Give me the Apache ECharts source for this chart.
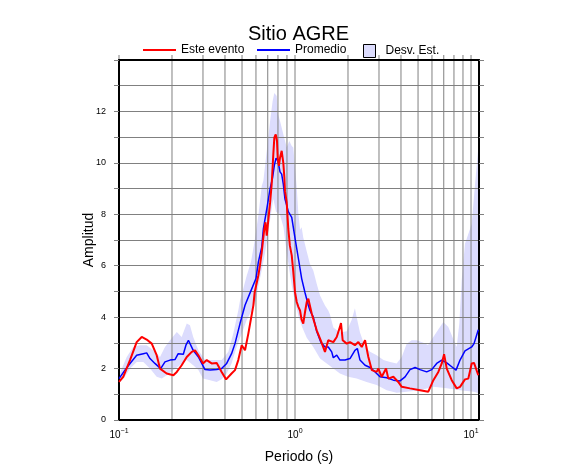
<!DOCTYPE html>
<html>
<head>
<meta charset="utf-8">
<script src="https://cdn.jsdelivr.net/npm/echarts@6/dist/echarts.min.js"></script>
<style>html,body{margin:0;padding:0;background:#fff;}#c{width:586px;height:475px;}</style>
</head>
<body>
<div id="c"></div>
<script>
// Periodo (s), Amplitud
const eventoData = [[0.1,1.48],[0.1057,1.68],[0.1155,2.33],[0.126,3.03],[0.1346,3.23],[0.1436,3.13],[0.1535,2.97],[0.1637,2.52],[0.171,2.0],[0.1866,1.81],[0.2037,1.74],[0.213,1.87],[0.227,2.13],[0.2426,2.45],[0.259,2.65],[0.2704,2.71],[0.2825,2.52],[0.3,2.2],[0.315,2.33],[0.336,2.2],[0.359,2.22],[0.383,1.87],[0.406,1.58],[0.436,1.81],[0.456,1.94],[0.476,2.33],[0.498,2.91],[0.52,2.71],[0.543,3.36],[0.58,4.46],[0.59,4.97],[0.619,5.62],[0.632,6.0],[0.647,6.52],[0.669,7.43],[0.68,7.69],[0.691,7.17],[0.7,7.56],[0.722,8.46],[0.737,9.17],[0.753,10.34],[0.763,10.98],[0.777,11.11],[0.79,10.85],[0.798,10.14],[0.81,9.88],[0.822,10.2],[0.84,10.47],[0.858,10.0],[0.87,9.43],[0.877,8.9],[0.897,8.46],[0.916,7.43],[0.935,6.78],[0.958,6.4],[0.978,5.75],[1.0,4.97],[1.023,4.59],[1.045,4.4],[1.068,4.26],[1.09,3.9],[1.114,3.75],[1.14,4.2],[1.166,4.59],[1.19,4.72],[1.245,4.13],[1.328,3.49],[1.40,3.10],[1.48,2.65],[1.545,3.10],[1.651,3.03],[1.726,3.23],[1.80,3.62],[1.825,3.77],[1.866,3.10],[1.966,2.97],[2.053,3.03],[2.19,2.91],[2.29,3.03],[2.394,2.84],[2.50,3.10],[2.61,2.45],[2.73,1.94],[2.91,1.87],[2.976,2.0],[3.11,1.68],[3.29,2.0],[3.39,1.61],[3.62,1.68],[3.86,1.48],[4.04,1.29],[4.5,1.23],[5.13,1.16],[5.72,1.10],[6.11,1.55],[6.52,1.87],[6.82,2.2],[7.03,2.56],[7.28,2.0],[7.77,1.55],[8.29,1.23],[8.66,1.29],[9.24,1.58],[9.65,1.61],[10.09,2.2],[10.4,2.22],[11.0,1.74]];

const promedioData = [[0.1,1.61],[0.1081,1.94],[0.1155,2.2],[0.126,2.52],[0.1375,2.58],[0.1436,2.61],[0.150,2.39],[0.160,2.2],[0.1725,2.0],[0.1825,2.26],[0.195,2.33],[0.208,2.35],[0.217,2.58],[0.232,2.56],[0.24,2.91],[0.248,3.10],[0.253,3.03],[0.264,2.71],[0.2825,2.45],[0.308,1.96],[0.329,1.94],[0.359,1.96],[0.383,2.0],[0.409,2.2],[0.436,2.58],[0.456,2.97],[0.487,3.75],[0.52,4.46],[0.5675,5.1],[0.6,5.5],[0.619,6.14],[0.647,6.72],[0.661,7.43],[0.691,8.2],[0.722,9.0],[0.746,9.43],[0.763,9.9],[0.78,10.18],[0.8,10.08],[0.822,9.65],[0.84,9.56],[0.858,9.17],[0.877,8.59],[0.897,8.35],[0.916,8.1],[0.958,7.88],[1.0,7.07],[1.044,6.3],[1.091,5.5],[1.14,4.95],[1.19,4.46],[1.216,4.26],[1.27,4.0],[1.328,3.45],[1.40,3.03],[1.48,2.84],[1.545,2.84],[1.616,2.65],[1.651,2.42],[1.726,2.52],[1.80,2.33],[1.923,2.33],[2.053,2.39],[2.19,2.71],[2.26,2.78],[2.34,2.33],[2.50,2.13],[2.67,2.04],[2.85,1.87],[3.04,1.68],[3.32,1.64],[3.62,1.55],[3.95,1.52],[4.22,1.68],[4.50,1.96],[4.81,2.04],[5.13,1.96],[5.60,1.87],[5.98,1.96],[6.38,2.2],[6.82,2.33],[7.28,2.22],[7.77,2.07],[8.22,1.94],[8.66,2.33],[9.24,2.69],[10.09,2.84],[10.4,2.97],[11.0,3.51]];

const desvSup = [[0.1,1.74],[0.1106,2.45],[0.1205,2.84],[0.1316,2.91],[0.1436,2.91],[0.1567,2.71],[0.171,2.45],[0.1825,2.84],[0.195,3.10],[0.213,3.42],[0.227,3.23],[0.2426,3.75],[0.253,3.68],[0.264,3.23],[0.2825,2.71],[0.308,2.33],[0.344,2.33],[0.383,2.33],[0.418,2.65],[0.446,3.36],[0.476,4.26],[0.487,4.65],[0.508,5.1],[0.531,5.6],[0.562,6.14],[0.588,6.91],[0.619,7.95],[0.647,9.1],[0.661,9.3],[0.691,10.47],[0.722,11.63],[0.746,12.4],[0.763,12.72],[0.787,12.6],[0.8,11.89],[0.822,11.63],[0.858,11.11],[0.897,10.6],[0.928,10.85],[0.958,10.66],[0.978,10.6],[1.0,9.82],[1.023,9.04],[1.044,8.07],[1.068,7.4],[1.091,7.5],[1.114,7.1],[1.166,6.55],[1.216,6.07],[1.27,5.81],[1.328,5.3],[1.387,4.84],[1.48,4.45],[1.545,4.26],[1.58,4.1],[1.651,3.6],[1.8,3.4],[1.966,3.45],[2.1,3.9],[2.19,4.35],[2.24,4.0],[2.34,3.4],[2.5,2.84],[2.67,2.65],[2.91,2.52],[3.18,2.33],[3.47,2.26],[3.78,2.2],[4.04,2.45],[4.31,2.97],[4.6,3.10],[4.91,3.1],[5.36,3.0],[5.7,2.92],[6.2,3.3],[6.96,3.81],[7.43,3.62],[7.93,3.15],[8.29,2.84],[8.58,3.75],[8.85,5.43],[9.24,6.85],[10.09,7.62],[10.5,9.04],[11.1,10.9]];

const desvInf = [[0.1,1.42],[0.108,1.68],[0.1155,2.0],[0.126,2.26],[0.1375,2.26],[0.150,2.0],[0.1637,1.68],[0.175,1.61],[0.1866,1.74],[0.2037,1.94],[0.222,2.13],[0.2426,2.33],[0.264,2.13],[0.2825,1.94],[0.3,1.61],[0.329,1.55],[0.359,1.48],[0.383,1.58],[0.409,1.81],[0.436,2.2],[0.466,2.84],[0.498,3.36],[0.531,3.88],[0.5675,4.26],[0.6,4.65],[0.619,5.2],[0.65,5.9],[0.676,6.5],[0.722,7.8],[0.753,8.6],[0.78,8.1],[0.82,8.0],[0.86,7.5],[0.897,6.5],[0.958,5.23],[1.0,4.6],[1.05,4.0],[1.1,3.6],[1.166,3.2],[1.27,2.84],[1.387,2.39],[1.514,2.2],[1.651,2.0],[1.80,1.81],[2.0,1.68],[2.24,1.61],[2.55,1.48],[2.91,1.36],[3.32,1.16],[3.78,1.06],[4.31,1.10],[5.13,1.16],[6.11,1.29],[7.28,1.23],[8.66,1.16],[10.4,1.10],[11.1,1.03]];

// vertical grid positions (log axis minor/major ticks)
const gridPeriods = [0.1,0.2,0.3,0.4,0.5,0.6,0.7,0.8,0.9,1,2,3,4,5,6,7,8,9,10];
const xMin = 0.1, xMax = 11.1, yMin = 0, yMax = 14;

const FONT = '"Liberation Sans", Arial, Helvetica, sans-serif';
const bandColor = '#dcdcfd';
const gridColor = '#808080';

const chart = echarts.init(document.getElementById('c'), null, {renderer: 'canvas'});

function supLabel(v) {
  const l = Math.log10(v);
  const e = Math.round(l);
  if (Math.abs(l - e) > 1e-4) return '';
  return '{b|10}{s|' + (e < 0 ? '\u2212' + (-e) : e) + '}';
}

const lineLegendStyle = {opacity: 0};

const option = {
  animation: false,
  backgroundColor: '#fff',
  title: {
    text: 'Sitio AGRE',
    left: 243, top: 19,
    textStyle: {fontFamily: FONT, fontSize: 20, fontWeight: 'normal', color: '#000'}
  },
  legend: [
    {data: ['Este evento'], left: 137, top: 39, itemWidth: 33, itemHeight: 14,
     itemStyle: lineLegendStyle,
     textStyle: {fontFamily: FONT, fontSize: 12, color: '#000'}},
    {data: ['Promedio'], left: 251, top: 39, itemWidth: 33, itemHeight: 14,
     itemStyle: lineLegendStyle,
     textStyle: {fontFamily: FONT, fontSize: 12, color: '#000'}},
    {data: [{name: 'Desv. Est.', icon: 'rect', itemStyle: {color: bandColor, borderColor: '#000', borderWidth: 1}}],
     left: 358, top: 39, itemWidth: 12, itemHeight: 13,
     textStyle: {fontFamily: FONT, fontSize: 12, color: '#000', padding: [0, 0, 0, 5]}}
  ],
  grid: {left: 119, right: 107, top: 60, bottom: 55, containLabel: false},
  xAxis: [
    {
      type: 'log', logBase: 10, min: xMin, max: xMax, position: 'bottom',
      name: 'Periodo (s)', nameLocation: 'middle', nameGap: 30, nameMoveOverlap: false,
      nameTextStyle: {fontFamily: FONT, fontSize: 14, color: '#000'},
      axisLine: {show: true, onZero: false, lineStyle: {color: '#000', width: 2}},
      axisTick: {show: false},
      splitLine: {show: false},
      axisLabel: {
        margin: 8, formatter: supLabel, showMaxLabel: true,
        rich: {
          b: {fontFamily: FONT, fontSize: 10, color: '#000', lineHeight: 12, verticalAlign: 'bottom'},
          s: {fontFamily: FONT, fontSize: 7, color: '#000', lineHeight: 8, verticalAlign: 'top'}
        }
      }
    },
    {
      type: 'log', logBase: 10, min: xMin, max: xMax, position: 'top',
      axisLine: {show: true, onZero: false, lineStyle: {color: '#000', width: 2}},
      axisTick: {show: false}, axisLabel: {show: false}, splitLine: {show: false}
    }
  ],
  yAxis: [
    {
      type: 'value', min: yMin, max: yMax, interval: 1, position: 'left',
      name: 'Amplitud', nameLocation: 'middle', nameGap: 23, nameMoveOverlap: false,
      nameTextStyle: {fontFamily: FONT, fontSize: 14, color: '#000'},
      axisLine: {show: true, onZero: false, lineStyle: {color: '#000', width: 2}},
      axisTick: {show: true, inside: false, length: 5, lineStyle: {color: gridColor, width: 1}},
      splitLine: {show: true, lineStyle: {color: gridColor, width: 1}},
      axisLabel: {
        margin: 13, fontFamily: FONT, fontSize: 9, color: '#000',
        formatter: function (v) { return (v % 2 === 0 && v < yMax) ? String(v) : ''; }
      }
    },
    {
      type: 'value', min: yMin, max: yMax, interval: 1, position: 'right',
      axisLine: {show: true, onZero: false, lineStyle: {color: '#000', width: 2}},
      axisTick: {show: true, inside: false, length: 5, lineStyle: {color: gridColor, width: 1}},
      splitLine: {show: false}, axisLabel: {show: false}
    }
  ],
  series: [
    {
      name: 'Desv. Est.', type: 'custom', z: -2, silent: true,
      xAxisIndex: 0, yAxisIndex: 0,
      itemStyle: {color: bandColor},
      encode: {x: 0, y: 1},
      data: desvSup,
      renderItem: function (params, api) {
        if (params.dataIndex !== 0) return null;
        const pts = desvSup.map(function (p) { return api.coord(p); })
          .concat(desvInf.slice().reverse().map(function (p) { return api.coord(p); }));
        const cs = params.coordSys;
        return {
          type: 'polygon',
          shape: {points: pts},
          style: {fill: bandColor, stroke: null},
          clipPath: {type: 'rect', shape: {x: cs.x, y: cs.y, width: cs.width, height: cs.height}}
        };
      }
    },
    {
      name: 'vgrid', type: 'custom', z: -1, silent: true, clip: false,
      xAxisIndex: 0, yAxisIndex: 0,
      encode: {x: 0, y: 1},
      data: gridPeriods.map(function (v) { return [v, yMin]; }),
      renderItem: function (params, api) {
        const cs = params.coordSys;
        const p = api.coord([api.value(0), yMin]);
        return {
          type: 'line',
          shape: {x1: p[0], y1: cs.y + cs.height, x2: p[0], y2: cs.y - 5},
          style: {stroke: gridColor, lineWidth: 1}
        };
      }
    },
    {
      name: 'Promedio', type: 'line', z: 3, data: promedioData,
      symbol: 'none', showSymbol: false, smooth: false,
      itemStyle: {color: '#0000ff'},
      lineStyle: {color: '#0000ff', width: 1.5}
    },
    {
      name: 'Este evento', type: 'line', z: 4, data: eventoData,
      symbol: 'none', showSymbol: false, smooth: false,
      itemStyle: {color: '#ff0000'},
      lineStyle: {color: '#ff0000', width: 2}
    }
  ]
};
chart.setOption(option);
</script>
</body>
</html>
